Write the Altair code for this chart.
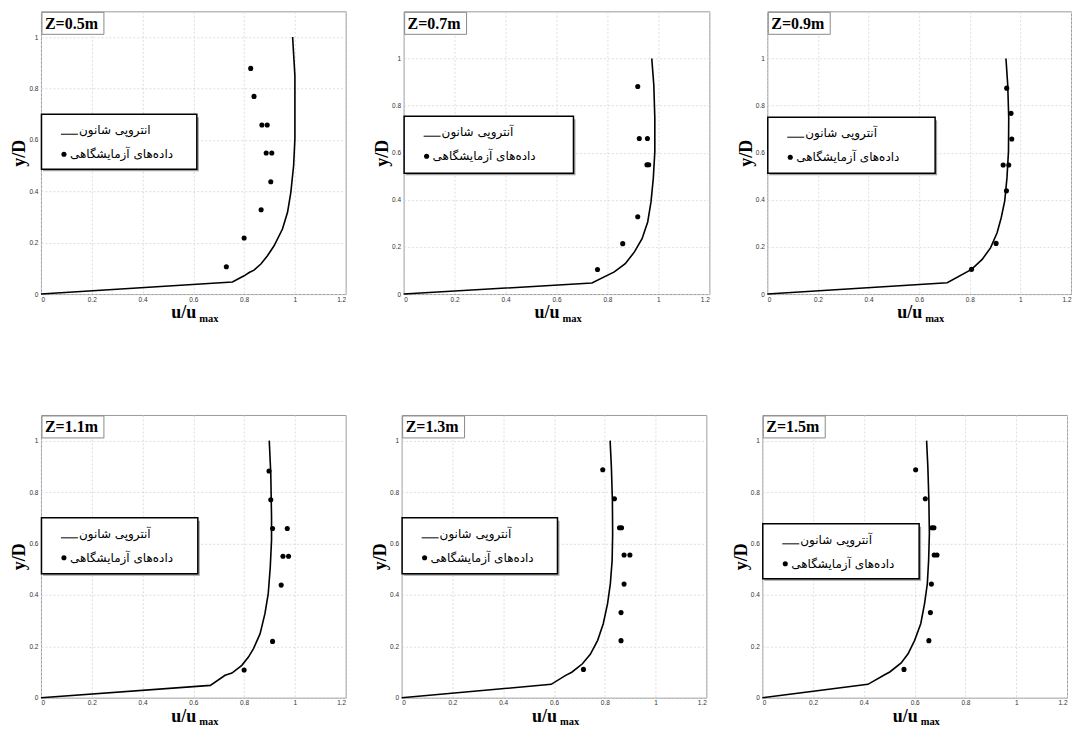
import altair as alt
import pandas as pd

# ---------------- data ----------------
TITLES = ["Z=0.5m", "Z=0.7m", "Z=0.9m", "Z=1.1m", "Z=1.3m", "Z=1.5m"]
LINE_LABELS = ["انتروپی شانون", "آنتروپی شانون", "آنتروپی شانون",
               "آنتروپی شانون", "آنتروپی شانون", "آنتروپی شانون"]
POINT_LABEL = "داده‌های آزمایشگاهی"
X_TICKS = [0, 0.2, 0.4, 0.6, 0.8, 1.0, 1.2]
Y_TICKS = [0, 0.2, 0.4, 0.6, 0.8, 1.0]
Y_MAX = [1.1, 1.2, 1.2, 1.1, 1.1, 1.1]

# Shannon-entropy profiles (u/umax, y/D)
C1_U = [0, 0.754, 0.80, 0.82, 0.839, 0.866, 0.892, 0.918, 0.951, 0.971, 0.984, 0.995, 1.0, 1.0, 0.991]
C1_V = [0, 0.047, 0.071, 0.084, 0.093, 0.117, 0.149, 0.188, 0.253, 0.318, 0.396, 0.50, 0.603, 0.85, 1.0]
C2_U = [0, 0.739, 0.827, 0.870, 0.906, 0.936, 0.958, 0.971, 0.980, 0.986, 0.986, 0.982, 0.974]
C2_V = [0, 0.047, 0.094, 0.129, 0.179, 0.235, 0.306, 0.391, 0.491, 0.604, 0.746, 0.888, 1.0]
C3_U = [0, 0.711, 0.807, 0.849, 0.882, 0.908, 0.924, 0.938, 0.947, 0.953, 0.954, 0.950, 0.943]
C3_V = [0, 0.048, 0.105, 0.147, 0.196, 0.260, 0.323, 0.394, 0.493, 0.606, 0.747, 0.888, 1.0]
C4_U = [0, 0.667, 0.725, 0.752, 0.791, 0.817, 0.837, 0.863, 0.882, 0.895, 0.903, 0.908, 0.908, 0.905, 0.899]
C4_V = [0, 0.048, 0.087, 0.096, 0.126, 0.158, 0.191, 0.249, 0.327, 0.405, 0.508, 0.612, 0.703, 0.872, 1.0]
C5_U = [0, 0.589, 0.646, 0.670, 0.712, 0.743, 0.772, 0.794, 0.811, 0.822, 0.829, 0.831, 0.830, 0.826, 0.821]
C5_V = [0, 0.052, 0.087, 0.099, 0.132, 0.169, 0.223, 0.288, 0.366, 0.444, 0.534, 0.638, 0.768, 0.898, 1.0]
C6_U = [0, 0.416, 0.482, 0.502, 0.547, 0.574, 0.600, 0.624, 0.639, 0.650, 0.655, 0.658, 0.656, 0.652, 0.647]
C6_V = [0, 0.052, 0.089, 0.100, 0.135, 0.171, 0.223, 0.288, 0.366, 0.444, 0.534, 0.638, 0.768, 0.898, 1.0]

# experimental data (u/umax, y/D)
P1_U = [0.730, 0.800, 0.867, 0.905, 0.887, 0.909, 0.870, 0.891, 0.839, 0.826]
P1_V = [0.106, 0.218, 0.328, 0.437, 0.549, 0.549, 0.658, 0.658, 0.769, 0.878]
P2_U = [0.761, 0.860, 0.919, 0.955, 0.962, 0.925, 0.957, 0.919]
P2_V = [0.104, 0.214, 0.328, 0.549, 0.549, 0.660, 0.660, 0.881]
P3_U = [0.807, 0.904, 0.945, 0.932, 0.954, 0.966, 0.963, 0.946]
P3_V = [0.105, 0.215, 0.438, 0.548, 0.548, 0.658, 0.767, 0.874]
P4_U = [0.800, 0.912, 0.946, 0.953, 0.975, 0.912, 0.970, 0.905, 0.898]
P4_V = [0.108, 0.219, 0.438, 0.550, 0.550, 0.658, 0.658, 0.770, 0.882]
P5_U = [0.716, 0.864, 0.864, 0.876, 0.876, 0.899, 0.858, 0.866, 0.838, 0.792]
P5_V = [0.110, 0.222, 0.331, 0.442, 0.555, 0.555, 0.661, 0.661, 0.774, 0.887]
P6_U = [0.558, 0.656, 0.662, 0.666, 0.677, 0.688, 0.668, 0.676, 0.642, 0.604]
P6_V = [0.110, 0.222, 0.331, 0.442, 0.555, 0.555, 0.661, 0.661, 0.774, 0.887]

CURVES = [(C1_U, C1_V), (C2_U, C2_V), (C3_U, C3_V), (C4_U, C4_V), (C5_U, C5_V), (C6_U, C6_V)]
POINTS = [(P1_U, P1_V), (P2_U, P2_V), (P3_U, P3_V), (P4_U, P4_V), (P5_U, P5_V), (P6_U, P6_V)]

# ---------------- layout / style ----------------
WIDTHS = [305, 306, 304, 305, 305, 305]
H = 283
# legend box (x0, x1, y0, y1) in plot pixels
LEG_BOX = [(0, 156, 103, 158), (0, 170, 105, 162), (0, 168, 106, 162),
           (0, 157, 103, 159), (0, 156, 103, 159), (0, 157, 109, 164)]
SERIF = "Liberation Serif"
ARABIC = "DejaVu Sans"

ONE = pd.DataFrame({"k": [0]})


def panel(i):
    W = WIDTHS[i]
    cu, cv = CURVES[i]
    pu, pv = POINTS[i]
    curve_df = pd.DataFrame({"u": cu, "v": cv, "o": list(range(len(cu)))})
    pts_df = pd.DataFrame({"u": pu, "v": pv})

    x = alt.X("u:Q", scale=alt.Scale(domain=[0, 1.2], nice=False, zero=False),
              axis=alt.Axis(values=X_TICKS, format="~g", title=None))
    y = alt.Y("v:Q", scale=alt.Scale(domain=[0, Y_MAX[i]], nice=False, zero=False),
              axis=alt.Axis(values=Y_TICKS, format="~g", title="y/D"))

    line = alt.Chart(curve_df).mark_line(color="black", strokeWidth=1.6).encode(
        x=x, y=y, order="o:Q")
    dots = alt.Chart(pts_df).mark_circle(color="black", size=26, opacity=1).encode(x=x, y=y)

    zrect = alt.Chart(ONE).mark_rect(fill="white", stroke="#8a8a8a", strokeWidth=1).encode(
        x=alt.value(1), x2=alt.value(63), y=alt.value(1), y2=alt.value(23))
    ztext = alt.Chart(ONE).mark_text(
        text=TITLES[i], align="left", baseline="middle", font=SERIF, fontWeight="bold",
        fontSize=16, color="black").encode(x=alt.value(4), y=alt.value(12.5))

    bx0, bx1, by0, by1 = LEG_BOX[i]
    shadow = alt.Chart(ONE).mark_rect(fill="#a0a0a0").encode(
        x=alt.value(bx0 + 2), x2=alt.value(bx1 + 2), y=alt.value(by0 + 3), y2=alt.value(by1 + 2))
    lrect = alt.Chart(ONE).mark_rect(fill="white", stroke="black", strokeWidth=1.5).encode(
        x=alt.value(bx0 + 0.5), x2=alt.value(bx1), y=alt.value(by0), y2=alt.value(by1))
    lrule = alt.Chart(ONE).mark_rule(color="black", strokeWidth=1).encode(
        x=alt.value(bx0 + 20), x2=alt.value(bx0 + 37), y=alt.value(by0 + 20))
    lpoint = alt.Chart(ONE).mark_circle(color="black", size=26, opacity=1).encode(
        x=alt.value(bx0 + 23), y=alt.value(by0 + 40))
    ltext1 = alt.Chart(ONE).mark_text(
        text=LINE_LABELS[i], align="left", baseline="middle", font=ARABIC,
        fontSize=12, color="black").encode(x=alt.value(bx0 + 38), y=alt.value(by0 + 16))
    ltext2 = alt.Chart(ONE).mark_text(
        text=POINT_LABEL, align="left", baseline="middle", font=ARABIC,
        fontSize=12, color="black").encode(x=alt.value(bx0 + 29), y=alt.value(by0 + 40))

    xt1 = alt.Chart(ONE).mark_text(
        text="u/u", align="right", baseline="alphabetic", font=SERIF, fontWeight="bold",
        fontSize=18, color="black").encode(x=alt.value(W / 2 + 3), y=alt.value(H + 24))
    xt2 = alt.Chart(ONE).mark_text(
        text="max", align="left", baseline="alphabetic", font=SERIF, fontWeight="bold",
        fontSize=10.5, color="black").encode(x=alt.value(W / 2 + 6), y=alt.value(H + 27.5))

    return alt.layer(line, dots, zrect, ztext, shadow, lrect, lrule, lpoint,
                     ltext1, ltext2, xt1, xt2).properties(width=W, height=H)


row1 = alt.hconcat(panel(0), panel(1), panel(2), spacing=26)
row2 = alt.hconcat(panel(3), panel(4), panel(5), spacing=24)

chart = alt.vconcat(row1, row2, spacing=89).properties(
    padding={"left": 2, "top": 2, "right": 0, "bottom": 0},
    background="white",
).configure_view(
    stroke="#9a9a9a", strokeWidth=1
).configure_axis(
    domain=False, ticks=False, labelFont="Liberation Sans", labelFontSize=6.5,
    labelColor="#333333", gridColor="#d6d6d6", gridDash=[2, 2], gridWidth=0.8,
    labelPadding=3,
).configure_axisX(
    labelPadding=2
).configure_axisY(
    minExtent=10, maxExtent=10, titlePadding=2, titleFont=SERIF, titleFontWeight="bold",
    titleFontSize=18, titleColor="black",
)

chart.save("out.html", embed_options={"renderer": "svg", "actions": False})
